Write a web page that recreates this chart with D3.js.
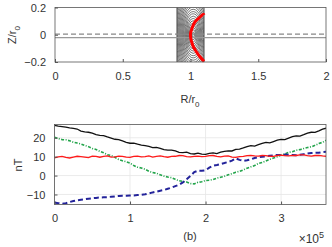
<!DOCTYPE html>
<html>
<head>
<meta charset="utf-8">
<script src="https://cdnjs.cloudflare.com/ajax/libs/d3/7.8.5/d3.min.js"></script>
<style>
  body { margin: 0; background: #fff; }
  text { font-family: "Liberation Sans", Arial, sans-serif; fill: #333; }
  .axis path, .axis line { stroke: #555; }
  .axis text { font-size: 11px; fill: #333; }
</style>
</head>
<body>
<div id="chart"></div>
<script>
// ---- data: top panel (cross-section) ----
var rTicks = [0, 0.5, 1, 1.5, 2];
var zTicks = [-0.2, 0, 0.2];
var coilBox = [0.9, 1.1];             // R range of contour block
var ellCenter = [1.02, 0];
var ellA = [0.008,0.015,0.022,0.029,0.036,0.043,0.050,0.057,0.064,0.071,0.078,0.085,0.092,0.099,0.106,0.113,0.120,0.127,0.134,0.141,0.148,0.155];
var ellB = [0.019,0.036,0.053,0.070,0.086,0.103,0.120,0.137,0.154,0.170,0.187,0.204,0.221,0.238,0.254,0.271,0.288,0.305,0.322,0.338,0.355,0.372];
var arcR = [1.100, 1.095, 1.065, 1.033, 1.012, 1.000, 1.002, 1.009, 1.022, 1.045, 1.068, 1.095, 1.100];
var arcZ = [0.145, 0.150, 0.125, 0.094, 0.050, 0.008, -0.025, -0.053, -0.090, -0.127, -0.160, -0.190, -0.195];
var zDashed = 0.004, zSolid = -0.021;

// ---- data: bottom panel (nT vs time, x in units of 1e5, step 0.05) ----
var tVals = d3.range(73).map(function(i) { return i * 0.05; });
var blackVals = [26.6,26.1,25.9,25.6,25.2,24.9,24.6,23.5,23.1,22.9,22.4,21.6,21.3,21.1,20.4,19.8,19.2,19.0,18.3,17.6,17.1,17.2,16.6,16.1,15.8,15.4,14.8,14.9,14.4,13.7,13.4,13.5,13.0,12.3,12.1,12.4,11.6,11.4,11.9,11.3,11.2,11.7,12.0,11.6,12.4,12.8,13.1,13.0,13.8,14.0,14.6,15.3,15.8,15.6,16.3,17.0,17.5,17.3,18.0,18.7,19.1,19.0,19.8,20.6,21.0,20.9,21.6,22.4,22.9,22.8,23.6,24.5,25.1];
var greenVals = [20.3,19.6,19.0,18.9,18.4,17.6,17.2,16.7,15.9,15.3,14.3,13.8,12.8,12.1,11.0,10.6,9.6,8.5,7.8,7.3,6.6,5.3,4.4,4.0,3.3,2.3,1.6,1.2,0.4,-0.3,-0.8,-1.1,-2.0,-2.7,-3.1,-3.4,-4.2,-4.4,-3.6,-3.3,-2.6,-2.5,-2.1,-1.4,-0.9,-0.4,0.4,1.0,1.8,2.2,3.0,3.9,4.6,5.3,6.4,6.9,7.7,8.6,9.3,10.0,10.9,11.4,12.3,12.6,13.4,13.7,14.3,14.8,15.2,16.0,16.9,17.6,18.7];
var redVals = [9.4,9.9,10.1,9.6,9.3,9.8,10.2,10.0,9.8,9.5,10.3,10.1,9.7,10.2,10.4,9.8,9.9,10.3,10.2,9.7,9.6,10.1,10.3,9.9,10.0,10.4,9.8,10.2,10.4,10.0,9.7,10.1,10.2,10.6,10.5,10.0,9.9,10.2,10.3,10.0,10.1,10.5,10.6,10.2,9.9,10.3,10.4,9.8,9.6,10.0,10.2,10.5,10.7,10.4,10.3,10.6,10.5,10.2,10.1,10.6,10.8,10.5,10.4,10.7,10.6,10.9,10.9,10.5,10.3,10.6,10.7,10.4,10.2];
var blueVals = [-14.3,-14.6,-14.9,-14.6,-14.0,-13.5,-13.1,-12.8,-12.5,-12.2,-12.0,-11.8,-11.6,-11.5,-11.4,-11.2,-11.0,-10.8,-10.7,-10.7,-10.6,-10.5,-10.3,-10.2,-9.9,-9.4,-8.9,-8.5,-8.0,-7.6,-7.0,-6.4,-5.6,-4.8,-3.6,-2.0,-0.2,1.8,2.6,2.5,2.8,4.2,5.2,5.6,6.1,6.6,7.2,7.9,9.1,8.3,7.8,8.1,8.6,9.3,9.8,10.0,10.2,10.5,10.7,10.9,10.9,11.1,11.0,10.9,10.8,11.0,11.3,11.6,11.9,12.0,12.1,12.4,12.6];
var tTicks = [0, 1, 2, 3];
var nTTicks = [-10, 0, 10, 20];

var width = 332, height = 247;

var svg = d3.select("#chart").append("svg")
    .attr("width", width)
    .attr("height", height);

// ================= top panel =================
var topM = {left: 55, right: 326, top: 7.5, bottom: 62};
var xR = d3.scaleLinear().domain([0, 2]).range([topM.left, topM.right]);
var yZ = d3.scaleLinear().domain([-0.2, 0.2]).range([topM.bottom, topM.top]);

var defs = svg.append("defs");
defs.append("clipPath").attr("id", "coilclip")
    .append("rect")
    .attr("x", xR(coilBox[0])).attr("y", yZ(0.2))
    .attr("width", xR(coilBox[1]) - xR(coilBox[0]))
    .attr("height", yZ(-0.2) - yZ(0.2));

var gTop = svg.append("g");

gTop.append("g").attr("clip-path", "url(#coilclip)")
    .selectAll("ellipse").data(ellA).enter()
    .append("ellipse")
    .attr("cx", xR(ellCenter[0]))
    .attr("cy", yZ(ellCenter[1]))
    .attr("rx", function(d) { return xR(d) - xR(0); })
    .attr("ry", function(d, i) { return yZ(0) - yZ(ellB[i]); })
    .attr("fill", "none")
    .attr("stroke", "#1a1a1a")
    .attr("stroke-width", 0.6);

// block edges
gTop.selectAll(".coiledge").data(coilBox).enter()
    .append("line")
    .attr("x1", function(d) { return xR(d); }).attr("x2", function(d) { return xR(d); })
    .attr("y1", yZ(0.2)).attr("y2", yZ(-0.2))
    .attr("stroke", "#333").attr("stroke-width", 0.8);

gTop.append("line")
    .attr("x1", xR(0)).attr("x2", xR(2))
    .attr("y1", yZ(zDashed)).attr("y2", yZ(zDashed))
    .attr("stroke", "#888").attr("stroke-width", 1.2)
    .attr("stroke-dasharray", "5,3");
gTop.append("line")
    .attr("x1", xR(0)).attr("x2", xR(2))
    .attr("y1", yZ(zSolid)).attr("y2", yZ(zSolid))
    .attr("stroke", "#999").attr("stroke-width", 1.4);

var arcPts = arcR.map(function(r, i) { return [r, arcZ[i]]; });
gTop.append("path")
    .datum(arcPts)
    .attr("d", d3.line().curve(d3.curveCatmullRom)
        .x(function(d) { return xR(d[0]); })
        .y(function(d) { return yZ(d[1]); }))
    .attr("fill", "none")
    .attr("stroke", "#ff0000")
    .attr("stroke-width", 3);

// box
gTop.append("rect")
    .attr("x", topM.left).attr("y", topM.top)
    .attr("width", topM.right - topM.left).attr("height", topM.bottom - topM.top)
    .attr("fill", "none").attr("stroke", "#555").attr("stroke-width", 0.8);

gTop.append("g").attr("class", "axis")
    .attr("transform", "translate(0," + topM.bottom + ")")
    .call(d3.axisBottom(xR).tickValues(rTicks).tickFormat(d3.format("")).tickSizeInner(-3).tickSizeOuter(0).tickPadding(10))
    .select(".domain").remove();
gTop.append("g").attr("class", "axis")
    .attr("transform", "translate(" + topM.left + ",0)")
    .call(d3.axisLeft(yZ).tickValues(zTicks).tickFormat(d3.format("")).tickSizeInner(-3).tickSizeOuter(0).tickPadding(9))
    .select(".domain").remove();

var rl = svg.append("text").attr("x", 190).attr("y", 103)
    .attr("text-anchor", "middle").style("font-size", "11px");
rl.append("tspan").text("R/r");
rl.append("tspan").attr("dy", 4).style("font-size", "8px").text("0");

var zl = svg.append("text").attr("transform", "translate(16,35) rotate(-90)")
    .attr("text-anchor", "middle").style("font-size", "11px");
zl.append("tspan").text("Z/r");
zl.append("tspan").attr("dy", 4).style("font-size", "8px").text("0");

// ================= bottom panel =================
var bot = {left: 54.5, right: 326, top: 124.5, bottom: 204.5};
var xT = d3.scaleLinear().domain([0, 3.595]).range([bot.left, bot.right]);
var yB = d3.scaleLinear().domain([-15.3, 27]).range([bot.bottom, bot.top]);

var gBot = svg.append("g");

// grid
gBot.selectAll(".vgrid").data(tTicks).enter().append("line")
    .attr("x1", function(d) { return xT(d); }).attr("x2", function(d) { return xT(d); })
    .attr("y1", bot.top).attr("y2", bot.bottom)
    .attr("stroke", "#e6e6e6").attr("stroke-width", 0.8);
gBot.selectAll(".hgrid").data(nTTicks).enter().append("line")
    .attr("x1", bot.left).attr("x2", bot.right)
    .attr("y1", function(d) { return yB(d); }).attr("y2", function(d) { return yB(d); })
    .attr("stroke", "#e6e6e6").attr("stroke-width", 0.8);

defs.append("clipPath").attr("id", "botclip")
    .append("rect").attr("x", bot.left).attr("y", bot.top)
    .attr("width", bot.right - bot.left).attr("height", bot.bottom - bot.top);

var lineT = function(vals) {
    return d3.line()
        .x(function(d, i) { return xT(tVals[i]); })
        .y(function(d) { return yB(d); })(vals);
};

var series = [
    {vals: greenVals, color: "#22a44a", width: 1.6, dash: "3,1.5,1,1.5"},
    {vals: blueVals, color: "#23239a", width: 2, dash: "5,3"},
    {vals: redVals, color: "#ff1a1a", width: 1.3, dash: null},
    {vals: blackVals, color: "#111", width: 1.3, dash: null}
];

gBot.append("g").attr("clip-path", "url(#botclip)")
    .selectAll("path").data(series).enter()
    .append("path")
    .attr("d", function(s) { return lineT(s.vals); })
    .attr("fill", "none")
    .attr("stroke", function(s) { return s.color; })
    .attr("stroke-width", function(s) { return s.width; })
    .attr("stroke-dasharray", function(s) { return s.dash; });

gBot.append("rect")
    .attr("x", bot.left).attr("y", bot.top)
    .attr("width", bot.right - bot.left).attr("height", bot.bottom - bot.top)
    .attr("fill", "none").attr("stroke", "#555").attr("stroke-width", 0.8);

gBot.append("g").attr("class", "axis")
    .attr("transform", "translate(0," + bot.bottom + ")")
    .call(d3.axisBottom(xT).tickValues(tTicks).tickFormat(d3.format("d")).tickSizeInner(-3).tickSizeOuter(0).tickPadding(10))
    .select(".domain").remove();
gBot.append("g").attr("class", "axis")
    .attr("transform", "translate(" + bot.left + ",0)")
    .call(d3.axisLeft(yB).tickValues(nTTicks).tickFormat(d3.format("d")).tickSizeInner(-3).tickSizeOuter(0).tickPadding(9))
    .select(".domain").remove();

svg.append("text").attr("transform", "translate(22,165) rotate(-90)")
    .attr("text-anchor", "middle").style("font-size", "11px").text("nT");

svg.append("text").attr("x", 190).attr("y", 240)
    .attr("text-anchor", "middle").style("font-size", "11px").text("(b)");

var ex = svg.append("text").attr("x", 324).attr("y", 243)
    .attr("text-anchor", "end").style("font-size", "12px");
ex.append("tspan").text("\u00d710");
ex.append("tspan").attr("dy", -5).style("font-size", "9px").text("5");
</script>
</body>
</html>
